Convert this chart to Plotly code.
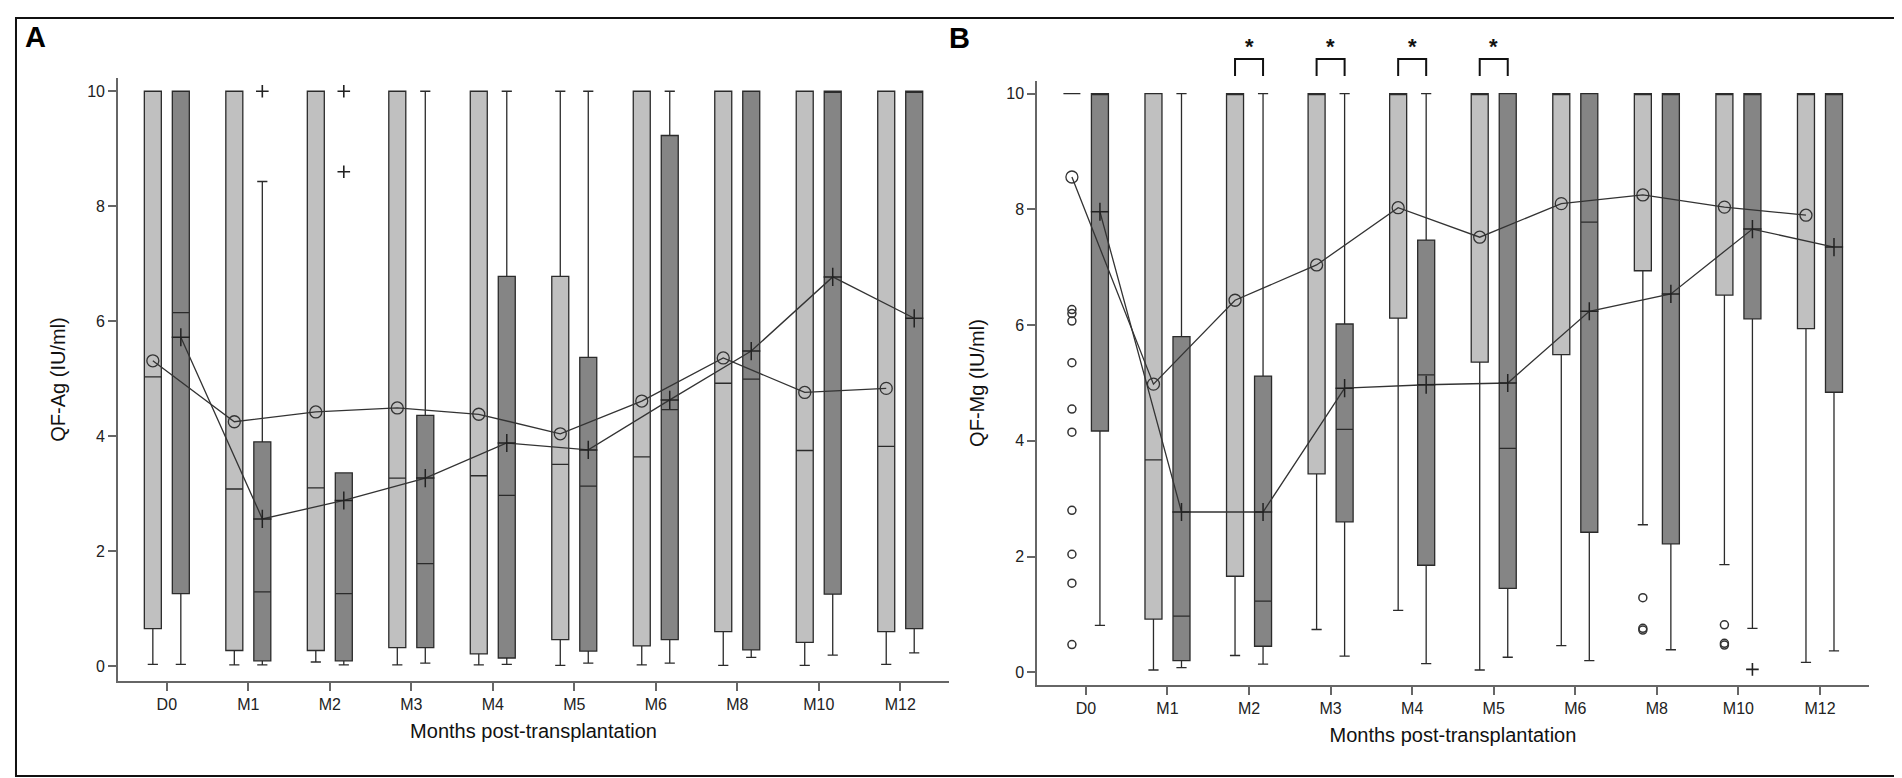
import plotly.graph_objects as go

# ---------------- data ----------------
CATS = ["D0", "M1", "M2", "M3", "M4", "M5", "M6", "M8", "M10", "M12"]

# Panel A : QF-Ag
A_L_Q1 = [0.65, 0.27, 0.27, 0.32, 0.21, 0.46, 0.35, 0.60, 0.41, 0.60]
A_L_MED = [5.03, 3.08, 3.10, 3.27, 3.31, 3.51, 3.64, 4.92, 3.75, 3.82]
A_L_Q3 = [10, 10, 10, 10, 10, 6.78, 10, 10, 10, 10]
A_L_LO = [0.03, 0.02, 0.07, 0.02, 0.02, 0.01, 0.02, 0.01, 0.01, 0.03]
A_L_HI = [10, 10, 10, 10, 10, 10, 10, 10, 10, 10]
A_L_MEAN = [5.31, 4.25, 4.42, 4.49, 4.38, 4.04, 4.61, 5.36, 4.76, 4.83]

A_D_Q1 = [1.26, 0.09, 0.09, 0.32, 0.14, 0.26, 0.46, 0.28, 1.25, 0.65]
A_D_MED = [6.15, 1.29, 1.26, 1.78, 2.97, 3.13, 4.46, 4.99, 10, 10]
A_D_Q3 = [10, 3.90, 3.36, 4.36, 6.78, 5.37, 9.23, 10, 10, 10]
A_D_LO = [0.03, 0.02, 0.02, 0.05, 0.03, 0.05, 0.05, 0.15, 0.19, 0.23]
A_D_HI = [10, 8.43, 3.36, 10, 10, 10, 10, 10, 10, 10]
A_D_MEAN = [5.72, 2.56, 2.88, 3.27, 3.88, 3.76, 4.63, 5.48, 6.77, 6.05]

A_D_OUT_X = ["M1", "M2", "M2"]
A_D_OUT_Y = [10, 10, 8.6]

# Panel B : QF-Mg
B_L_Q1 = [10, 0.92, 1.66, 3.43, 6.12, 5.36, 5.49, 6.94, 6.52, 5.94]
B_L_MED = [10, 3.67, 10, 10, 10, 10, 10, 10, 10, 10]
B_L_Q3 = [10, 10, 10, 10, 10, 10, 10, 10, 10, 10]
B_L_LO = [10, 0.04, 0.29, 0.74, 1.07, 0.04, 0.46, 2.55, 1.86, 0.17]
B_L_HI = [10, 10, 10, 10, 10, 10, 10, 10, 10, 10]
B_L_MEAN = [8.56, 4.98, 6.43, 7.04, 8.03, 7.52, 8.10, 8.25, 8.04, 7.90]

B_D_Q1 = [4.17, 0.20, 0.45, 2.60, 1.85, 1.45, 2.42, 2.22, 6.11, 4.84]
B_D_MED = [10, 0.97, 1.23, 4.20, 5.14, 3.87, 7.78, 10, 10, 10]
B_D_Q3 = [10, 5.80, 5.12, 6.02, 7.47, 10, 10, 10, 10, 10]
B_D_LO = [0.81, 0.08, 0.14, 0.28, 0.15, 0.26, 0.20, 0.39, 0.76, 0.37]
B_D_HI = [10, 10, 10, 10, 10, 10, 10, 10, 10, 10]
B_D_MEAN = [7.96, 2.77, 2.77, 4.91, 4.97, 5.00, 6.24, 6.54, 7.66, 7.35]

B_L_OUT_X = ["D0"] * 10 + ["M8"] * 3 + ["M10"] * 3
B_L_OUT_Y = [6.27, 6.20, 6.07, 5.35, 4.55, 4.15, 2.80, 2.04, 1.54, 0.48,
             1.29, 0.76, 0.73, 0.82, 0.50, 0.47]
B_D_OUT_X = ["M10"]
B_D_OUT_Y = [0.05]

SIG_B = ["M2", "M3", "M4", "M5"]

# ---------------- style ----------------
LIGHT = "#c0c0c0"
DARK = "#858585"
EDGE = "#2b2b2b"
LINEC = "#333333"
FONT = "Liberation Sans, Arial, sans-serif"
BOXGAP = 0.313
BOXGROUPGAP = 0.393
GROUP_OFF = (1 - BOXGAP) / 4.0

fig = go.Figure()


def add_panel(xa, ya, lq1, lmed, lq3, llo, lhi, lmean,
              dq1, dmed, dq3, dlo, dhi, dmean):
    for grp, fill, q1, med, q3, lo, hi in (
            ("L", LIGHT, lq1, lmed, lq3, llo, lhi),
            ("D", DARK, dq1, dmed, dq3, dlo, dhi)):
        fig.add_trace(go.Box(
            x=CATS, q1=q1, median=med, q3=q3, lowerfence=lo, upperfence=hi,
            offsetgroup=grp, fillcolor=fill, boxpoints=False,
            line=dict(color=EDGE, width=1.3), whiskerwidth=0.6,
            xaxis=xa, yaxis=ya, showlegend=False, hoverinfo="skip"))
    fig.add_trace(go.Scatter(
        x=CATS, y=lmean, mode="lines+markers", offsetgroup="L",
        line=dict(color=LINEC, width=1.3),
        marker=dict(symbol="circle-open", size=12, color=LINEC,
                    line=dict(width=1.3, color=LINEC)),
        xaxis=xa, yaxis=ya, showlegend=False))
    fig.add_trace(go.Scatter(
        x=CATS, y=dmean, mode="lines+markers", offsetgroup="D",
        line=dict(color=LINEC, width=1.3),
        marker=dict(symbol="cross-thin", size=13,
                    line=dict(width=1.5, color="#222222")),
        xaxis=xa, yaxis=ya, showlegend=False))


add_panel("x", "y", A_L_Q1, A_L_MED, A_L_Q3, A_L_LO, A_L_HI, A_L_MEAN,
          A_D_Q1, A_D_MED, A_D_Q3, A_D_LO, A_D_HI, A_D_MEAN)
add_panel("x2", "y2", B_L_Q1, B_L_MED, B_L_Q3, B_L_LO, B_L_HI, B_L_MEAN,
          B_D_Q1, B_D_MED, B_D_Q3, B_D_LO, B_D_HI, B_D_MEAN)

# outliers
fig.add_trace(go.Scatter(
    x=A_D_OUT_X, y=A_D_OUT_Y, mode="markers", offsetgroup="D",
    marker=dict(symbol="cross-thin", size=9, line=dict(width=1.6, color="#222222")),
    xaxis="x", yaxis="y", showlegend=False))
fig.add_trace(go.Scatter(
    x=B_L_OUT_X, y=B_L_OUT_Y, mode="markers", offsetgroup="L",
    marker=dict(symbol="circle-open", size=8, color=LINEC, line=dict(width=1.5)),
    xaxis="x2", yaxis="y2", showlegend=False))
fig.add_trace(go.Scatter(
    x=B_D_OUT_X, y=B_D_OUT_Y, mode="markers", offsetgroup="D",
    marker=dict(symbol="cross-thin", size=9, line=dict(width=1.6, color="#222222")),
    xaxis="x2", yaxis="y2", showlegend=False))

# significance brackets (panel B)
shapes = []
annotations = []
for cat in SIG_B:
    i = CATS.index(cat)
    x0, x1 = i - GROUP_OFF, i + GROUP_OFF
    shapes.append(dict(
        type="path", xref="x2", yref="paper",
        path=f"M {x0},0.9126 L {x0},0.9344 L {x1},0.9344 L {x1},0.9126",
        line=dict(color="#111111", width=2)))
    annotations.append(dict(
        x=i, y=0.951, xref="x2", yref="paper", text="<b>*</b>",
        showarrow=False, font=dict(family=FONT, size=22, color="#111111"),
        xanchor="center", yanchor="middle"))

# outer frame
shapes.append(dict(type="rect", xref="paper", yref="paper",
                   x0=0.0042, x1=0.9958, y0=0.0129, y1=0.9871,
                   line=dict(color="#111111", width=2)))

annotations.append(dict(x=0.0147, y=0.963, xref="paper", yref="paper",
                        text="<b>A</b>", showarrow=False,
                        font=dict(family=FONT, size=29, color="#000000"),
                        xanchor="center", yanchor="middle"))
annotations.append(dict(x=0.5005, y=0.961, xref="paper", yref="paper",
                        text="<b>B</b>", showarrow=False,
                        font=dict(family=FONT, size=29, color="#000000"),
                        xanchor="center", yanchor="middle"))

axis_common = dict(showline=True, linecolor="#666666", linewidth=1.5,
                   ticks="outside", ticklen=8, tickwidth=1.5, tickcolor="#666666",
                   showgrid=False, zeroline=False, automargin=False,
                   tickfont=dict(family=FONT, size=16, color="#222222"))

fig.update_layout(
    width=1902, height=778,
    margin=dict(l=0, r=0, t=0, b=0),
    paper_bgcolor="white", plot_bgcolor="white",
    showlegend=False,
    boxmode="group", boxgap=BOXGAP, boxgroupgap=BOXGROUPGAP,
    scattermode="group", scattergap=BOXGAP,
    font=dict(family=FONT, color="#222222"),
    xaxis=dict(domain=[0.0578, 0.4948], anchor="y", type="category",
               range=[-0.6, 9.6], categoryorder="array", categoryarray=CATS,
               title=dict(text="Months post-transplantation", standoff=12,
                          font=dict(family=FONT, size=20, color="#111111")),
               **axis_common),
    yaxis=dict(domain=[0.1350, 0.9100], anchor="x", range=[-0.26, 10.23],
               dtick=2, tick0=0,
               title=dict(text="QF-Ag (IU/ml)", standoff=16,
                          font=dict(family=FONT, size=20, color="#111111")),
               **axis_common),
    xaxis2=dict(domain=[0.5410, 0.9784], anchor="y2", type="category",
                range=[-0.6, 9.6], categoryorder="array", categoryarray=CATS,
                title=dict(text="Months post-transplantation", standoff=12,
                           font=dict(family=FONT, size=20, color="#111111")),
                **axis_common),
    yaxis2=dict(domain=[0.1298, 0.9062], anchor="x2", range=[-0.22, 10.22],
                dtick=2, tick0=0,
                title=dict(text="QF-Mg (IU/ml)", standoff=16,
                           font=dict(family=FONT, size=20, color="#111111")),
                **axis_common),
    shapes=shapes,
    annotations=annotations,
)

fig.write_html("out.html")
